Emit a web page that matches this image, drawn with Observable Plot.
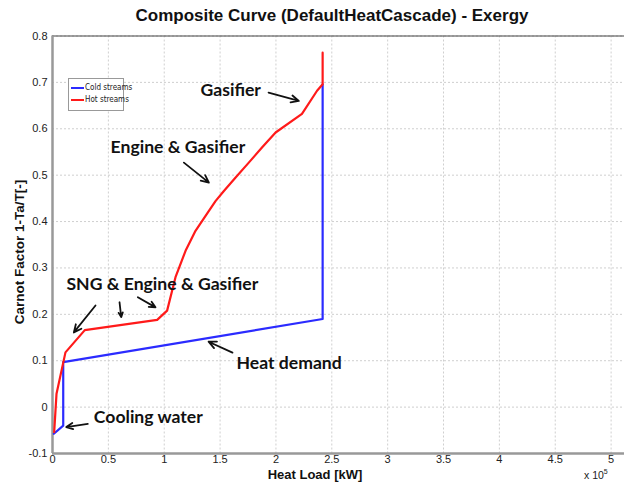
<!DOCTYPE html>
<html><head><meta charset="utf-8">
<script src="https://cdn.jsdelivr.net/npm/d3@7"></script>
<script src="https://cdn.jsdelivr.net/npm/@observablehq/plot@0.6"></script>
<style>
body{margin:0;background:#fff;}
#wrap{position:relative;width:624px;height:484px;overflow:hidden;font-family:"Liberation Sans",Arial,sans-serif;}
.ov{position:absolute;white-space:nowrap;}
#title{left:0;width:664px;top:6px;text-align:center;font-weight:bold;font-size:17px;color:#111;}
#ylab{left:19px;top:252px;transform:translate(-50%,-50%) rotate(-90deg);font-weight:bold;font-size:13.5px;color:#111;}
#xlab{left:315px;top:474px;transform:translate(-50%,-50%);font-weight:bold;font-size:13px;color:#111;}
#exp{left:584px;top:468px;font-size:10.5px;color:#222;}
#exp sup{font-size:7px;}
#legend{left:68px;top:78px;width:54px;height:31px;border:1px solid #999;background:#fff;font-family:"Liberation Sans Narrow","DejaVu Sans Condensed",sans-serif;font-size:8px;color:#222;}
#legend .it{position:absolute;left:2px;display:flex;align-items:center;}
#legend .sw{width:13px;height:2px;margin-right:1px;}
</style></head>
<body>
<div id="wrap">
<div id="plot"></div>
<div class="ov" id="title">Composite Curve (DefaultHeatCascade) - Exergy</div>
<div class="ov" id="ylab">Carnot Factor 1-Ta/T[-]</div>
<div class="ov" id="xlab">Heat Load [kW]</div>
<div class="ov" id="exp">x 10<sup>5</sup></div>
<div class="ov" id="legend"></div>
</div>
<script>
// Heat load in units of 1e5 kW, Carnot factor
const coldX = [0.012, 0.096, 0.096, 2.418, 2.418];
const coldY = [-0.0575, -0.040, 0.097, 0.190, 0.696];
const hotX = [0.015, 0.036, 0.116, 0.289, 0.937, 1.026, 1.101, 1.191, 1.280, 1.370, 1.459, 1.534, 1.639, 1.757, 1.877, 1.997, 2.233, 2.368, 2.418, 2.418];
const hotY = [-0.054, 0.029, 0.118, 0.166, 0.188, 0.208, 0.280, 0.337, 0.380, 0.412, 0.444, 0.466, 0.495, 0.527, 0.560, 0.592, 0.632, 0.682, 0.696, 0.764];
const xTicks = [0, 0.5, 1, 1.5, 2, 2.5, 3, 3.5, 4, 4.5, 5];
const xTickLabels = ["0","0.5","1","1.5","2","2.5","3","3.5","4","4.5","5"];
const yTicks = [-0.1, 0, 0.1, 0.2, 0.3, 0.4, 0.5, 0.6, 0.7, 0.8];
const yTickLabels = ["-0.1","0","0.1","0.2","0.3","0.4","0.5","0.6","0.7","0.8"];
const seriesNames = ["Cold streams", "Hot streams"];
const seriesColors = ["#2b2bff", "#ff1a1a"];
const labels = ["Gasifier", "Engine & Gasifier", "SNG & Engine & Gasifier", "Heat demand", "Cooling water"];
const labelX = [1.325, 0.52, 0.125, 1.647, 0.37];
const labelY = [0.682, 0.56, 0.2655, 0.095, -0.022];
const arrowX1 = [1.934, 1.176, 0.385, 0.600, 0.764, 1.611, 0.316];
const arrowY1 = [0.678, 0.527, 0.219, 0.226, 0.237, 0.1176, -0.036];
const arrowX2 = [2.205, 1.400, 0.191, 0.615, 0.922, 1.397, 0.123];
const arrowY2 = [0.660, 0.484, 0.161, 0.194, 0.215, 0.141, -0.043];

const cold = coldX.map((x, i) => ({x, y: coldY[i]}));
const hot = hotX.map((x, i) => ({x, y: hotY[i]}));
const texts = labels.map((t, i) => ({t, x: labelX[i], y: labelY[i]}));
const arrows = arrowX1.map((x1, i) => ({x1, y1: arrowY1[i], x2: arrowX2[i], y2: arrowY2[i]}));

const chart = Plot.plot({
  width: 624, height: 484,
  marginLeft: 52, marginRight: 0, marginTop: 35.5, marginBottom: 31,
  x: {domain: [0, 5.12]},
  y: {domain: [-0.1, 0.8]},
  style: {fontFamily: "Liberation Sans, Arial, sans-serif", fontSize: "11px", color: "#222", background: "#fff"},
  marks: [
    Plot.gridX(xTicks, {stroke: "#cfcfcf", strokeOpacity: 1, strokeDasharray: "2,2"}),
    Plot.gridY(yTicks, {stroke: "#cfcfcf", strokeOpacity: 1, strokeDasharray: "2,2"}),
    Plot.axisX(xTicks, {tickSize: 0, tickPadding: 2, tickFormat: (d, i) => xTickLabels[i], label: null, fontSize: 11}),
    Plot.axisY(yTicks, {tickSize: 0, tickPadding: 5, tickFormat: (d, i) => yTickLabels[i], label: null, fontSize: 11}),
    Plot.ruleY([0.8], {stroke: "#444", strokeWidth: 1.2}),
    Plot.ruleX([0], {stroke: "#999", strokeWidth: 2.5}),
    Plot.ruleY([-0.1], {stroke: "#999", strokeWidth: 2.5}),
    Plot.line(cold, {x: "x", y: "y", stroke: seriesColors[0], strokeWidth: 2.2}),
    Plot.line(hot, {x: "x", y: "y", stroke: seriesColors[1], strokeWidth: 2.2}),
    Plot.arrow(arrows, {x1: "x1", y1: "y1", x2: "x2", y2: "y2", stroke: "#111", strokeWidth: 1.8, headLength: 7, headAngle: 50}),
    Plot.text(texts, {x: "x", y: "y", text: "t", textAnchor: "start", fontFamily: "Lato, Open Sans, sans-serif", fontWeight: "bold", fontSize: 17.6, fill: "#111"})
  ]
});
document.getElementById("plot").appendChild(chart);

const lg = document.getElementById("legend");
seriesNames.forEach((n, i) => {
  const d = document.createElement("div");
  d.className = "it";
  d.style.top = (4 + i * 12) + "px";
  d.innerHTML = `<span class="sw" style="background:${seriesColors[i]}"></span><span>${n}</span>`;
  lg.appendChild(d);
});
</script>
</body></html>
